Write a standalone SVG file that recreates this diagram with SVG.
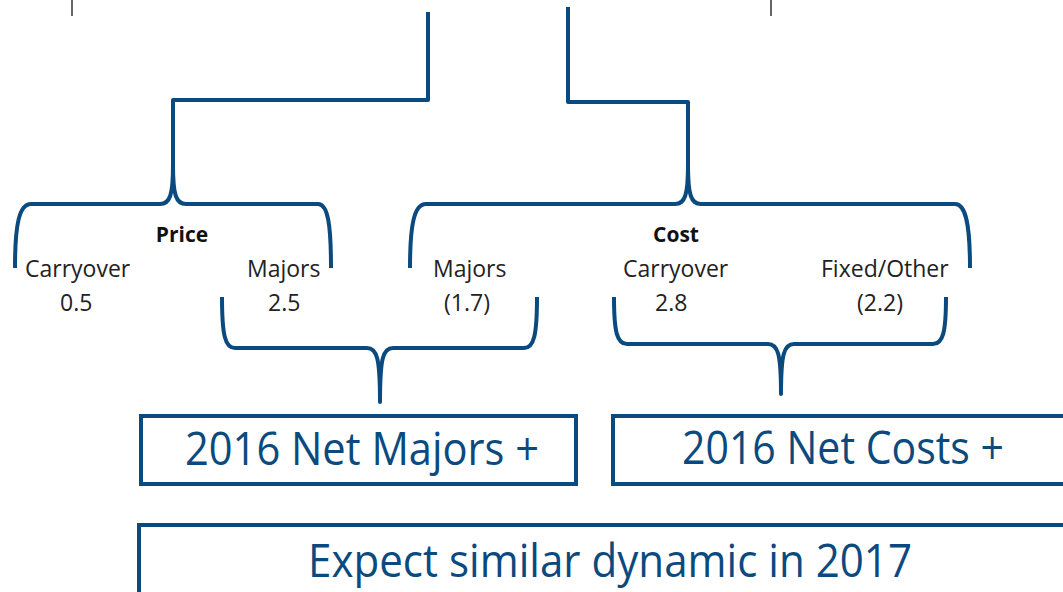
<svg xmlns="http://www.w3.org/2000/svg" width="1063" height="592" viewBox="0 0 1063 592">
<style>
.ln{fill:none;stroke:#0b4a7e;stroke-width:4;stroke-linejoin:round;stroke-linecap:butt}
.box{fill:#fff;stroke:#0b4a7e;stroke-width:4}
.lbl{font-family:"Open Sans","Liberation Sans",sans-serif;font-size:23px;fill:#222}
.hd{font-family:"Open Sans","Liberation Sans",sans-serif;font-size:21px;font-weight:bold;fill:#111}
.big{font-family:"Open Sans","Liberation Sans",sans-serif;font-size:45px;fill:#0b4a7e}
.tick{stroke:#333;stroke-width:1.5}
</style>
<rect width="1063" height="592" fill="#fff"/>
<g id="top-ticks">
<line class="tick" x1="72" y1="0" x2="72" y2="16"/>
<line class="tick" x1="771" y1="0" x2="771" y2="16"/>
</g>
<g id="connectors">
<path class="ln" d="M428,12 V100 H173 V170"/>
<path class="ln" d="M568,7 V102 H688 V170"/>
</g>
<g id="price-brace">
<path class="ln" d="M15,268 C15,225 19,204 31,204 L160,204 C170,204 173,195 173,165 C173,195 176,204 186,204 L318,204 C328,204 331,225 331,268"/>
<text class="hd" x="182" y="242" text-anchor="middle">Price</text>
</g>
<g id="cost-brace">
<path class="ln" d="M410,268 C410,225 414,204 426,204 L675,204 C685,204 688,195 688,165 C688,195 691,204 701,204 L955,204 C966,204 970,225 970,268"/>
<text class="hd" x="676" y="242" text-anchor="middle">Cost</text>
</g>
<g id="price-carryover">
<text class="lbl" x="25" y="277">Carryover</text>
<text class="lbl" x="60" y="311">0.5</text>
</g>
<g id="price-majors">
<text class="lbl" x="247" y="277">Majors</text>
<text class="lbl" x="268" y="311">2.5</text>
</g>
<g id="cost-majors">
<text class="lbl" x="433" y="277">Majors</text>
<text class="lbl" x="444" y="311">(1.7)</text>
</g>
<g id="cost-carryover">
<text class="lbl" x="623" y="277">Carryover</text>
<text class="lbl" x="655" y="311">2.8</text>
</g>
<g id="cost-fixed">
<text class="lbl" x="821" y="277">Fixed/Other</text>
<text class="lbl" x="857" y="311">(2.2)</text>
</g>
<g id="majors-brace">
<path class="ln" d="M222,297 C222,335 225,348 235,348 L367,348 C377,348 380,358 380,402 C380,358 383,348 393,348 L524,348 C534,348 537,335 537,297"/>
</g>
<g id="costs-brace">
<path class="ln" d="M614,297 C614,332 617,344 627,344 L768,344 C778,344 781,354 781,394 C781,354 784,344 794,344 L933,344 C943,344 946,332 946,297"/>
</g>
<g id="net-majors">
<rect class="box" x="141" y="416" width="435" height="68"/>
<text class="big" x="185" y="465" textLength="354" lengthAdjust="spacingAndGlyphs">2016 Net Majors +</text>
</g>
<g id="net-costs">
<rect class="box" x="613" y="416" width="460" height="68"/>
<text class="big" x="682" y="464" textLength="322" lengthAdjust="spacingAndGlyphs">2016 Net Costs +</text>
</g>
<g id="expect">
<rect class="box" x="139" y="525" width="940" height="80"/>
<text class="big" x="308" y="577" textLength="604" lengthAdjust="spacingAndGlyphs">Expect similar dynamic in 2017</text>
</g>
</svg>
